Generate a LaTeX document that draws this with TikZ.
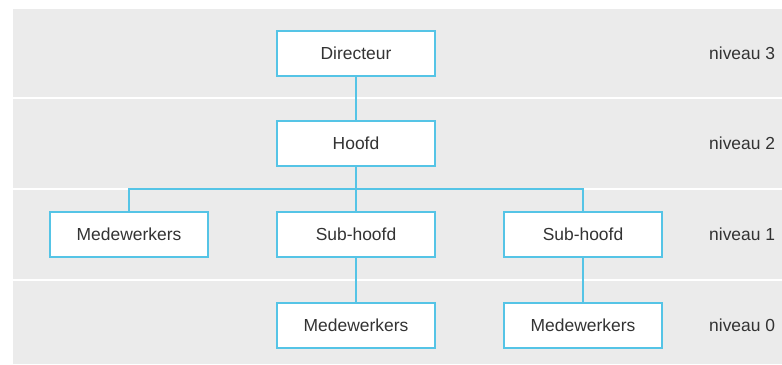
\documentclass[tikz,border=0pt]{standalone}
\usepackage{fontspec}
\setmainfont{Liberation Sans}
\definecolor{bggray}{RGB}{235,235,235}
\definecolor{linecyan}{RGB}{85,196,230}
\definecolor{txt}{RGB}{51,51,51}
\begin{document}
\begin{tikzpicture}[x=1bp,y=-1bp,
  box/.style={draw=linecyan, line width=1.2bp, fill=white, minimum width=158bp, minimum height=45bp, inner sep=0pt, text=txt, font=\fontsize{17.5}{20}\selectfont},
  lvl/.style={anchor=west, text=txt, inner sep=0pt, font=\fontsize{17.5}{20}\selectfont},
  conn/.style={draw=linecyan, line width=1.2bp},
  sep/.style={draw=white, line width=2bp}]
\useasboundingbox (0,0) rectangle (782,364);
\fill[bggray] (13,9) rectangle (782,364);
\draw[sep] (13,98) -- (782,98);
\draw[sep] (13,189) -- (782,189);
\draw[sep] (13,280) -- (782,280);
\node[box] (dir) at (356,53.5) {Directeur};
\node[box] (hoofd) at (356,143.5) {Hoofd};
\node[box] (med1) at (129,234.5) {Medewerkers};
\node[box] (sub1) at (356,234.5) {Sub-hoofd};
\node[box] (sub2) at (583,234.5) {Sub-hoofd};
\node[box] (med2) at (356,325.5) {Medewerkers};
\node[box] (med3) at (583,325.5) {Medewerkers};
\coordinate (j) at (356,189);
\draw[conn] (dir) -- (hoofd);
\draw[conn] (hoofd) -- (sub1);
\draw[conn] (med1.north) |- (j) -| (sub2.north);
\draw[conn] (sub1) -- (med2);
\draw[conn] (sub2) -- (med3);
\node[lvl] (n3) at (709,53.5) {niveau 3};
\node[lvl] (n2) at (709,143.5) {niveau 2};
\node[lvl] (n1) at (709,234.5) {niveau 1};
\node[lvl] (n0) at (709,325.5) {niveau 0};
\end{tikzpicture}
\end{document}
